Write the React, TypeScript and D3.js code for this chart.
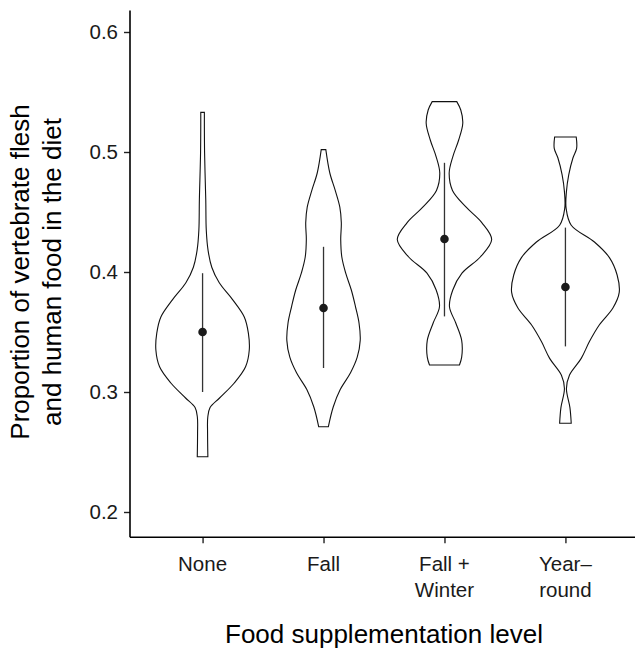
import React, { useEffect, useRef } from "react";
import * as d3 from "d3";

// categories and summary stats (mean, lower, upper)
const categories = ["None", "Fall", "Fall + Winter", "Year–round"];
const labelLines = [["None"], ["Fall"], ["Fall +", "Winter"], ["Year–", "round"]];
const means = [0.35, 0.37, 0.4275, 0.3875];
const lowers = [0.3, 0.32, 0.363, 0.338];
const uppers = [0.399, 0.421, 0.491, 0.437];

// violin outlines: [value, density]
const violinNone: [number, number][] = [
  [0.533, 0.18], [0.5, 0.2], [0.46, 0.32], [0.435, 0.37], [0.418, 0.55], [0.404, 0.92],
  [0.391, 1.67], [0.377, 3.0], [0.3625, 4.17], [0.349, 4.58], [0.335, 4.67],
  [0.321, 4.3], [0.3075, 3.17], [0.295, 1.7], [0.287, 0.75], [0.279, 0.52],
  [0.266, 0.5], [0.246, 0.53],
];
const violinFall: [number, number][] = [
  [0.502, 0.23], [0.4825, 0.63], [0.468, 1.17], [0.454, 1.63], [0.441, 1.78],
  [0.427, 1.72], [0.4125, 1.83], [0.399, 2.22], [0.385, 2.78], [0.371, 3.2],
  [0.3575, 3.55], [0.343, 3.67], [0.329, 3.37], [0.316, 2.7], [0.302, 1.67],
  [0.2875, 0.97], [0.271, 0.48],
];
const violinFallWinter: [number, number][] = [
  [0.542, 1.23], [0.535, 1.63], [0.524, 1.83], [0.51, 1.42], [0.496, 0.83],
  [0.4825, 0.47], [0.468, 0.8], [0.454, 2.17], [0.441, 3.75], [0.427, 4.72],
  [0.4125, 3.58], [0.399, 1.75], [0.385, 0.83], [0.371, 0.5], [0.3575, 1.13],
  [0.343, 1.72], [0.329, 1.72], [0.3225, 1.5],
];
const violinYearRound: [number, number][] = [
  [0.5125, 1.08], [0.503, 1.12], [0.495, 0.75], [0.481, 0.33], [0.467, 0.1],
  [0.453, 0.07], [0.439, 0.58], [0.425, 2.9], [0.412, 4.4], [0.3975, 5.17],
  [0.383, 5.38], [0.37, 4.75], [0.356, 3.4], [0.342, 2.4], [0.328, 1.58],
  [0.314, 0.4], [0.303, 0.1], [0.287, 0.45], [0.274, 0.58],
];
const violins = [violinNone, violinFall, violinFallWinter, violinYearRound];
const yTicks = [0.2, 0.3, 0.4, 0.5, 0.6];

const W = 635;
const H = 648;
const font = "'Liberation Sans', Arial, Helvetica, sans-serif";

export default function App() {
  const ref = useRef<SVGSVGElement>(null);

  useEffect(() => {
    const svg = d3.select(ref.current);
    svg.selectAll("*").remove();

    const x = d3.scalePoint<string>().domain(categories).range([130, 638]).padding(0.6);
    const y = d3.scaleLinear().domain([0.2, 0.6]).range([512, 32]);
    const w = d3.scaleLinear().domain([0, 5.38]).range([0, 53.8]);

    // violins
    violins.forEach((v, i) => {
      const cx = x(categories[i]) as number;
      const area = d3
        .area<[number, number]>()
        .y((d) => y(d[0]))
        .x0((d) => cx - w(d[1]))
        .x1((d) => cx + w(d[1]))
        .curve(d3.curveCatmullRom);
      svg
        .append("path")
        .attr("d", area(v) as string)
        .attr("fill", "white")
        .attr("stroke", "#111")
        .attr("stroke-width", 1.1);
    });

    // summary lines and points
    categories.forEach((c, i) => {
      const cx = x(c) as number;
      svg
        .append("line")
        .attr("x1", cx).attr("x2", cx)
        .attr("y1", y(lowers[i])).attr("y2", y(uppers[i]))
        .attr("stroke", "#333")
        .attr("stroke-width", 1.3);
      svg
        .append("circle")
        .attr("cx", cx).attr("cy", y(means[i]))
        .attr("r", 4.3)
        .attr("fill", "#1a1a1a");
    });

    // y axis
    const yAxis = svg
      .append("g")
      .attr("transform", "translate(130,0)")
      .call(d3.axisLeft(y).tickValues(yTicks).tickFormat(d3.format(".1f")).tickSize(6).tickPadding(6));
    yAxis.select(".domain").remove();
    yAxis.selectAll(".tick line").attr("stroke", "#222").attr("stroke-width", 1.4);
    yAxis.selectAll(".tick text").attr("font-size", 20.5).attr("font-family", font).attr("fill", "#1a1a1a");
    svg
      .append("line")
      .attr("x1", 130).attr("x2", 130)
      .attr("y1", y(0.179)).attr("y2", y(0.618))
      .attr("stroke", "#000").attr("stroke-width", 1.6);

    // x axis
    const xAxis = svg
      .append("g")
      .attr("transform", `translate(0,${y(0.179)})`)
      .call(d3.axisBottom(x).tickSize(6).tickFormat(() => ""));
    xAxis.select(".domain").remove();
    xAxis.selectAll(".tick line").attr("stroke", "#222").attr("stroke-width", 1.4);
    svg
      .append("line")
      .attr("x1", 130).attr("x2", 638)
      .attr("y1", y(0.179)).attr("y2", y(0.179))
      .attr("stroke", "#000").attr("stroke-width", 1.6);

    categories.forEach((c, i) => {
      const t = svg
        .append("text")
        .attr("x", x(c) as number)
        .attr("y", 571)
        .attr("text-anchor", "middle")
        .attr("font-size", 20.5)
        .attr("font-family", font)
        .attr("fill", "#1a1a1a");
      labelLines[i].forEach((ln, j) => {
        t.append("tspan").attr("x", x(c) as number).attr("dy", j === 0 ? 0 : 26).text(ln);
      });
    });

    // titles
    svg
      .append("text")
      .attr("x", 384)
      .attr("y", 643)
      .attr("text-anchor", "middle")
      .attr("font-size", 26)
      .attr("font-family", font)
      .attr("fill", "#000")
      .text("Food supplementation level");

    const yt = svg
      .append("text")
      .attr("transform", "translate(29,272) rotate(-90)")
      .attr("text-anchor", "middle")
      .attr("font-size", 26)
      .attr("font-family", font)
      .attr("fill", "#000");
    yt.append("tspan").attr("x", 0).attr("dy", 0).text("Proportion of vertebrate flesh");
    yt.append("tspan").attr("x", 0).attr("dy", 32).text("and human food in the diet");
  }, []);

  return (
    <svg
      ref={ref}
      width={W}
      height={H}
      style={{ position: "absolute", left: 0, top: 0, background: "white" }}
    />
  );
}
